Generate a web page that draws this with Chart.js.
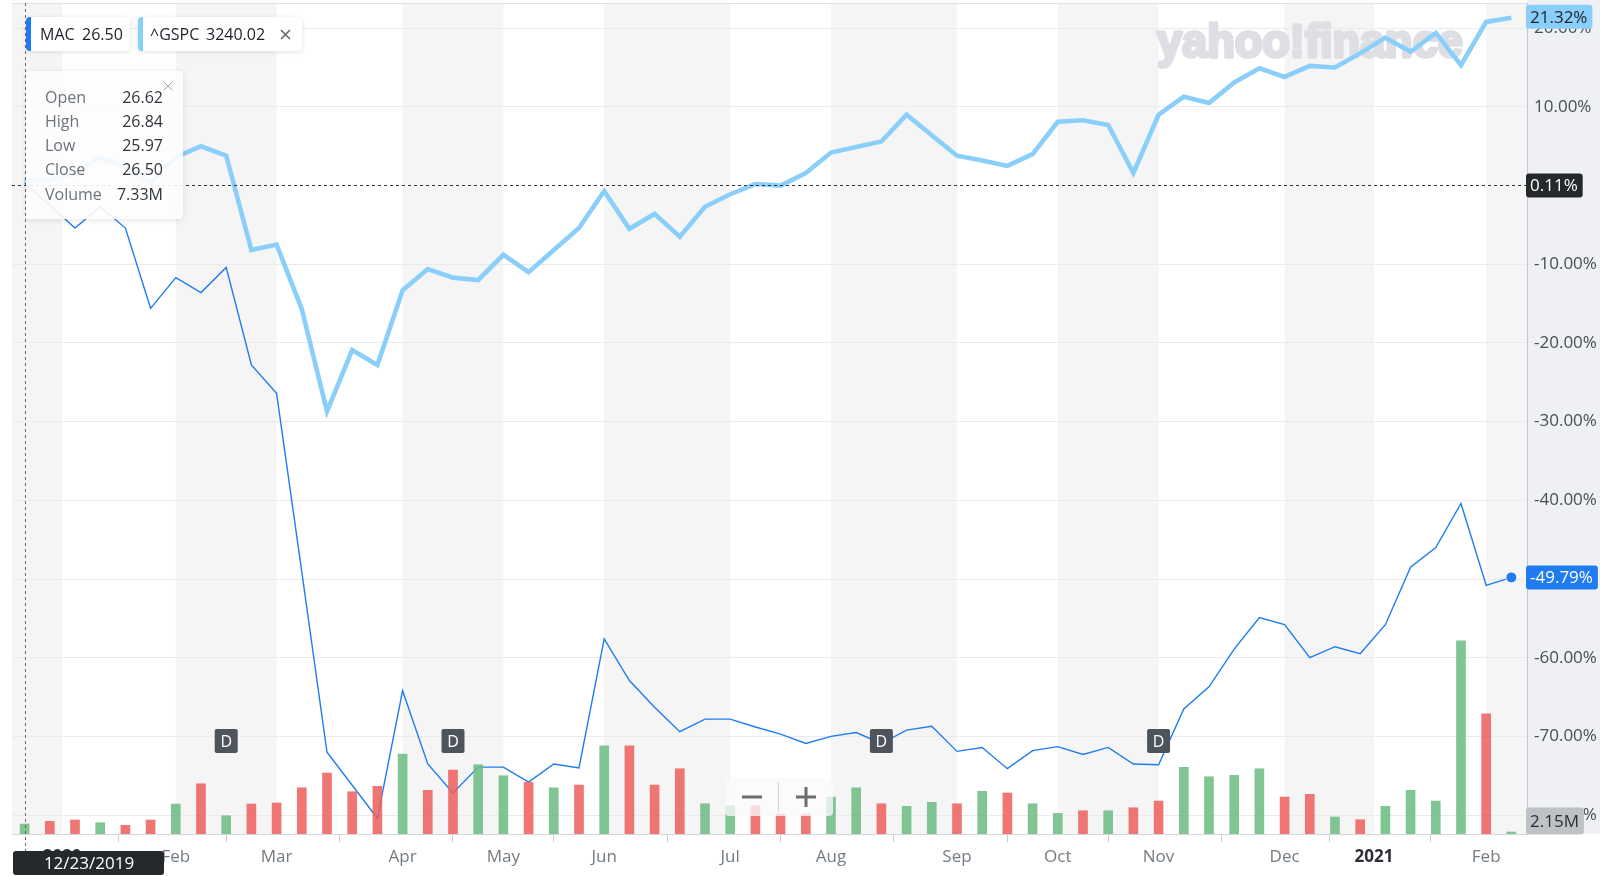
<!DOCTYPE html>
<html>
<head>
<meta charset="utf-8">
<script src="https://cdn.jsdelivr.net/npm/chart.js@4.4.1/dist/chart.umd.min.js"></script>
<style>
  html, body { margin: 0; padding: 0; background: #fff; }
  #wrap { width: 1600px; height: 876px; position: relative; }
</style>
</head>
<body>
<div id="wrap"><canvas id="chart"></canvas></div>
<script>
// weekly bars, 12/23/2019 .. 2/8/2021
const weeks = [
  '2019-12-23', '2019-12-30', '2020-01-06', '2020-01-13', '2020-01-20', '2020-01-27',
  '2020-02-03', '2020-02-10', '2020-02-17', '2020-02-24', '2020-03-02', '2020-03-09',
  '2020-03-16', '2020-03-23', '2020-03-30', '2020-04-06', '2020-04-13', '2020-04-20',
  '2020-04-27', '2020-05-04', '2020-05-11', '2020-05-18', '2020-05-25', '2020-06-01',
  '2020-06-08', '2020-06-15', '2020-06-22', '2020-06-29', '2020-07-06', '2020-07-13',
  '2020-07-20', '2020-07-27', '2020-08-03', '2020-08-10', '2020-08-17', '2020-08-24',
  '2020-08-31', '2020-09-07', '2020-09-14', '2020-09-21', '2020-09-28', '2020-10-05',
  '2020-10-12', '2020-10-19', '2020-10-26', '2020-11-02', '2020-11-09', '2020-11-16',
  '2020-11-23', '2020-11-30', '2020-12-07', '2020-12-14', '2020-12-21', '2020-12-28',
  '2021-01-04', '2021-01-11', '2021-01-18', '2021-01-25', '2021-02-01', '2021-02-08'
];

// % change
const gspc = [
  0.6, 0.7, 1.6, 3.6, 2.4, 0.3, 3.6, 5.0, 3.8, -8.2,
  -7.5, -15.7, -28.7, -20.9, -22.8, -13.3, -10.6, -11.7, -12.0, -8.8,
  -11.0, -8.2, -5.4, -0.7, -5.5, -3.6, -6.5, -2.7, -1.1, 0.2,
  0.0, 1.6, 4.2, 4.9, 5.6, 9.0, 6.4, 3.8, 3.2, 2.5,
  4.0, 8.1, 8.3, 7.7, 1.6, 9.0, 11.3, 10.5, 13.1, 14.9,
  13.8, 15.2, 15.0, 16.8, 18.8, 17.0, 19.4, 15.3, 20.8, 21.32
];
const mac = [
  0.3, -2.5, -5.4, -2.7, -5.4, -15.6, -11.7, -13.6, -10.4, -22.8,
  -26.4, -49.1, -72.0, -76.2, -80.4, -64.2, -73.5, -77.2, -73.9, -73.9,
  -75.8, -73.5, -74.0, -57.6, -62.9, -66.3, -69.4, -67.8, -67.8, -68.8,
  -69.7, -70.9, -70.0, -69.5, -70.9, -69.2, -68.7, -71.9, -71.4, -74.1,
  -71.8, -71.3, -72.3, -71.4, -73.5, -73.6, -66.5, -63.7, -58.9, -54.9,
  -55.8, -60.0, -58.6, -59.5, -55.8, -48.5, -46.0, -40.4, -50.8, -49.79
];

// MAC weekly volume, millions; 1 = up week (green), 0 = down (red)
const volume = [
  10.7, 13.6, 15.0, 12.1, 9.3, 15.0, 32.1, 53.8, 19.6, 32.1,
  33.2, 49.5, 65.3, 45.3, 51.0, 85.6, 46.8, 68.5, 74.2, 62.4,
  55.3, 49.5, 52.4, 94.5, 94.5, 52.4, 69.9, 32.4, 30.3, 30.3,
  21.4, 21.4, 39.6, 49.5, 32.4, 29.6, 33.9, 32.4, 45.7, 43.9,
  32.4, 22.1, 24.9, 24.9, 28.1, 35.3, 71.4, 61.3, 62.8, 69.9,
  39.6, 42.5, 18.2, 15.3, 29.6, 46.8, 35.3, 206.8, 128.7, 2.15
];
const volUp = [
  1, 0, 0, 1, 0, 0, 1, 0, 1, 0,
  0, 0, 0, 0, 0, 1, 0, 0, 1, 1,
  0, 1, 0, 1, 0, 0, 0, 1, 1, 0,
  0, 0, 1, 1, 0, 1, 1, 0, 1, 0,
  1, 1, 0, 1, 0, 0, 1, 1, 1, 1,
  0, 0, 1, 0, 1, 1, 1, 1, 0, 1
];

// dividend weeks (D markers)
const divWeeks = [8, 17, 34, 45];

// x ticks sit on week positions (years fall inside a week)
const xTickPos = [1.49, 6, 10, 15, 19, 23, 28, 32, 37, 41, 45, 50, 53.55, 58];
const xTickLabels = ['2020', 'Feb', 'Mar', 'Apr', 'May', 'Jun', 'Jul', 'Aug', 'Sep', 'Oct', 'Nov', 'Dec', '2021', 'Feb'];
const yTicks = [-80, -70, -60, -50, -40, -30, -20, -10, 10, 20];

const tipRows = [['Open', '26.62'], ['High', '26.84'], ['Low', '25.97'], ['Close', '26.50'], ['Volume', '7.33M']];
const crossValue = 0.11;

const FONT = '"Open Sans", "Noto Sans", sans-serif';
const MAC_COLOR = '#1f7cf0';
const GSPC_COLOR = '#8acffa';

function roundBox(ctx, x, y, w, h, r, fill) {
  ctx.beginPath();
  ctx.roundRect(x, y, w, h, r);
  ctx.fillStyle = fill;
  ctx.fill();
}

function valueTag(ctx, text, y, bg, fg, h) {
  h = h || 24;
  ctx.font = '17px ' + FONT;
  const w = ctx.measureText(text).width + 9;
  roundBox(ctx, 1526, y - h / 2, w, h, 3, bg);
  ctx.fillStyle = fg;
  ctx.textAlign = 'left';
  ctx.textBaseline = 'middle';
  ctx.fillText(text, 1530, y + 1);
}

const backdrop = {
  id: 'backdrop',
  beforeDraw(chart) {
    const { ctx, chartArea: a, scales: { x } } = chart;
    ctx.save();
    ctx.fillStyle = '#eff0f3';
    ctx.fillRect(a.right, 0, chart.width - a.right, a.bottom);
    const edges = [x.min, ...xTickPos, x.max];
    ctx.fillStyle = '#f5f5f5';
    for (let i = 0; i < edges.length - 1; i += 2) {
      const x0 = x.getPixelForValue(edges[i]);
      const x1 = x.getPixelForValue(edges[i + 1]);
      ctx.fillRect(x0, a.top, x1 - x0, a.bottom - a.top);
    }
    ctx.restore();
  },
  beforeDatasetsDraw(chart) {
    const ctx = chart.ctx;
    ctx.save();
    ctx.font = 'bold 47px "Liberation Sans", Arial, sans-serif';
    ctx.fillStyle = '#dedfe4';
    ctx.strokeStyle = '#dedfe4';
    ctx.lineWidth = 3.5;
    ctx.lineJoin = 'round';
    ctx.textAlign = 'left';
    ctx.textBaseline = 'alphabetic';
    ctx.translate(1157, 57);
    ctx.scale(0.96, 1);
    ctx.strokeText('yahoo!finance', 0, 0);
    ctx.fillText('yahoo!finance', 0, 0);
    ctx.restore();
  },
  afterDatasetsDraw(chart) {
    const { ctx, scales: { x } } = chart;
    ctx.save();
    divWeeks.forEach(i => {
      const cx = x.getPixelForValue(i);
      roundBox(ctx, cx - 11.5, 729, 23, 24, 2, '#4d545b');
      ctx.fillStyle = '#fff';
      ctx.font = '16px ' + FONT;
      ctx.textAlign = 'center';
      ctx.textBaseline = 'middle';
      ctx.fillText('D', cx, 742);
    });
    ctx.restore();
  }
};

const overlay = {
  id: 'overlay',
  afterDraw(chart) {
    const { ctx, chartArea: a, scales: { x, y, yVol } } = chart;
    ctx.save();

    // top border
    ctx.strokeStyle = '#e1e2e7';
    ctx.lineWidth = 1;
    ctx.beginPath();
    ctx.moveTo(a.left, a.top + 0.5);
    ctx.lineTo(a.right, a.top + 0.5);
    ctx.stroke();

    // crosshair
    const cx = Math.round(x.getPixelForValue(0)) + 0.5;
    const cy = Math.round(y.getPixelForValue(crossValue)) + 0.5;
    ctx.setLineDash([3, 3]);
    ctx.strokeStyle = '#6a6a6a';
    ctx.beginPath();
    ctx.moveTo(cx, a.top);
    ctx.lineTo(cx, 851);
    ctx.stroke();
    ctx.strokeStyle = '#333';
    ctx.beginPath();
    ctx.moveTo(a.left, cy);
    ctx.lineTo(a.right, cy);
    ctx.stroke();
    ctx.setLineDash([]);

    // last dot of MAC
    const lx = x.getPixelForValue(mac.length - 1);
    const ly = y.getPixelForValue(mac[mac.length - 1]);
    ctx.beginPath();
    ctx.arc(lx, ly, 5.5, 0, Math.PI * 2);
    ctx.fillStyle = MAC_COLOR;
    ctx.strokeStyle = '#fff';
    ctx.lineWidth = 1;
    ctx.fill();
    ctx.stroke();

    // value tags on the right axis
    valueTag(ctx, gspc[gspc.length - 1].toFixed(2) + '%', y.getPixelForValue(gspc[gspc.length - 1]) - 1, GSPC_COLOR, '#1d2228');
    valueTag(ctx, crossValue.toFixed(2) + '%', cy, '#26292c', '#fff');
    valueTag(ctx, mac[mac.length - 1].toFixed(2) + '%', ly, MAC_COLOR, '#fff');
    const vy = Math.min(yVol.getPixelForValue(volume[volume.length - 1]), a.bottom - 13);
    valueTag(ctx, volume[volume.length - 1].toFixed(2) + 'M', vy, '#bec1c5', '#2b2f33', 27);

    // series chips
    ctx.shadowColor = 'rgba(0,0,0,0.12)';
    ctx.shadowBlur = 5;
    ctx.shadowOffsetY = 1;
    roundBox(ctx, 26, 17, 104, 34, 4, '#fff');
    roundBox(ctx, 138, 17, 164, 34, 4, '#fff');
    ctx.shadowColor = 'transparent';
    ctx.beginPath();
    ctx.roundRect(26, 17, 5, 34, [4, 0, 0, 4]);
    ctx.fillStyle = MAC_COLOR;
    ctx.fill();
    ctx.beginPath();
    ctx.roundRect(138, 17, 5, 34, [4, 0, 0, 4]);
    ctx.fillStyle = GSPC_COLOR;
    ctx.fill();
    ctx.fillStyle = '#1d2228';
    ctx.font = '16px ' + FONT;
    ctx.textAlign = 'left';
    ctx.textBaseline = 'middle';
    ctx.fillText('MAC', 40, 35);
    ctx.fillText('26.50', 82, 35);
    ctx.fillText('^GSPC', 150, 35);
    ctx.fillText('3240.02', 206, 35);
    ctx.strokeStyle = '#5b636a';
    ctx.lineWidth = 1.5;
    ctx.beginPath();
    ctx.moveTo(281, 30); ctx.lineTo(290, 39);
    ctx.moveTo(290, 30); ctx.lineTo(281, 39);
    ctx.stroke();

    // OHLC box
    ctx.shadowColor = 'rgba(0,0,0,0.12)';
    ctx.shadowBlur = 6;
    ctx.shadowOffsetY = 1;
    roundBox(ctx, 26, 71, 157, 148, 4, 'rgba(255,255,255,0.9)');
    ctx.shadowColor = 'transparent';
    ctx.font = '16px ' + FONT;
    tipRows.forEach(([label, val], i) => {
      const ry = 98 + i * 24.3;
      ctx.textAlign = 'left';
      ctx.fillStyle = '#6c737a';
      ctx.fillText(label, 45, ry);
      ctx.textAlign = 'right';
      ctx.fillStyle = '#30363c';
      ctx.fillText(val, 163, ry);
    });
    ctx.strokeStyle = '#a4a9ae';
    ctx.lineWidth = 1;
    ctx.beginPath();
    ctx.moveTo(163.5, 81.5); ctx.lineTo(172.5, 90.5);
    ctx.moveTo(172.5, 81.5); ctx.lineTo(163.5, 90.5);
    ctx.stroke();

    // zoom buttons
    roundBox(ctx, 725, 778, 108, 38, 4, 'rgba(250,250,250,0.78)');
    ctx.strokeStyle = 'rgba(200,200,200,0.7)';
    ctx.beginPath();
    ctx.moveTo(778.5, 782); ctx.lineTo(778.5, 812);
    ctx.stroke();
    ctx.strokeStyle = '#6d6d6d';
    ctx.lineWidth = 3;
    ctx.beginPath();
    ctx.moveTo(742, 797); ctx.lineTo(762, 797);
    ctx.moveTo(796, 797); ctx.lineTo(816, 797);
    ctx.moveTo(806, 787); ctx.lineTo(806, 807);
    ctx.stroke();

    // hovered date
    roundBox(ctx, 13, 851, 151, 24, 3, '#26292c');
    ctx.fillStyle = '#fff';
    ctx.font = '17px ' + FONT;
    ctx.textAlign = 'center';
    ctx.textBaseline = 'middle';
    ctx.fillText('12/23/2019', 89, 864);

    ctx.restore();
  }
};

new Chart(document.getElementById('chart'), {
  type: 'line',
  data: {
    datasets: [
      {
        type: 'bar',
        label: 'Volume',
        yAxisID: 'yVol',
        data: weeks.map((w, i) => ({ x: i, y: volume[i] })),
        backgroundColor: volUp.map(u => u ? 'rgba(110,188,132,0.86)' : 'rgba(238,96,93,0.86)'),
        barThickness: 9,
        order: 0
      },
      {
        label: 'MAC',
        data: weeks.map((w, i) => ({ x: i, y: mac[i] })),
        borderColor: MAC_COLOR,
        borderWidth: 1.4,
        pointRadius: 0,
        tension: 0,
        order: 1
      },
      {
        label: '^GSPC',
        data: weeks.map((w, i) => ({ x: i, y: gspc[i] })),
        borderColor: GSPC_COLOR,
        borderWidth: 4.6,
        pointRadius: 0,
        tension: 0,
        order: 2
      }
    ]
  },
  options: {
    responsive: true,
    maintainAspectRatio: false,
    animation: false,
    layout: { padding: { left: 12, top: 3, right: 0, bottom: 0 } },
    plugins: { legend: { display: false }, tooltip: { enabled: false } },
    scales: {
      x: {
        type: 'linear',
        min: -0.5,
        max: 59.62,
        offset: false,
        afterBuildTicks: s => { s.ticks = xTickPos.map(v => ({ value: v })); },
        afterFit: s => { s.height = 42; s.paddingLeft = 0; s.paddingRight = 0; },
        grid: { drawOnChartArea: false, tickLength: 8, color: '#c9ccd0' },
        border: { color: '#d3d6d9' },
        ticks: {
          autoSkip: false,
          maxRotation: 0,
          padding: 5,
          callback: (v, i) => xTickLabels[i],
          color: c => /^\d{4}$/.test(xTickLabels[c.index]) ? '#2c3035' : '#737b83',
          font: c => ({ family: FONT, size: 17, weight: /^\d{4}$/.test(xTickLabels[c.index]) ? 'bold' : 'normal' })
        }
      },
      y: {
        position: 'right',
        min: -82.4,
        max: 23.2,
        afterBuildTicks: s => { s.ticks = yTicks.map(v => ({ value: v })); },
        afterFit: s => { s.width = 73; s.paddingTop = 0; s.paddingBottom = 0; },
        grid: { color: '#ebebeb', tickLength: 4 },
        border: { color: '#c5c9ce' },
        ticks: {
          padding: 3,
          color: '#464e56',
          font: { family: FONT, size: 17 },
          callback: v => v.toFixed(2) + '%'
        }
      },
      yVol: { display: false, min: 0, max: 890 }
    }
  },
  plugins: [backdrop, overlay]
});
</script>
</body>
</html>
